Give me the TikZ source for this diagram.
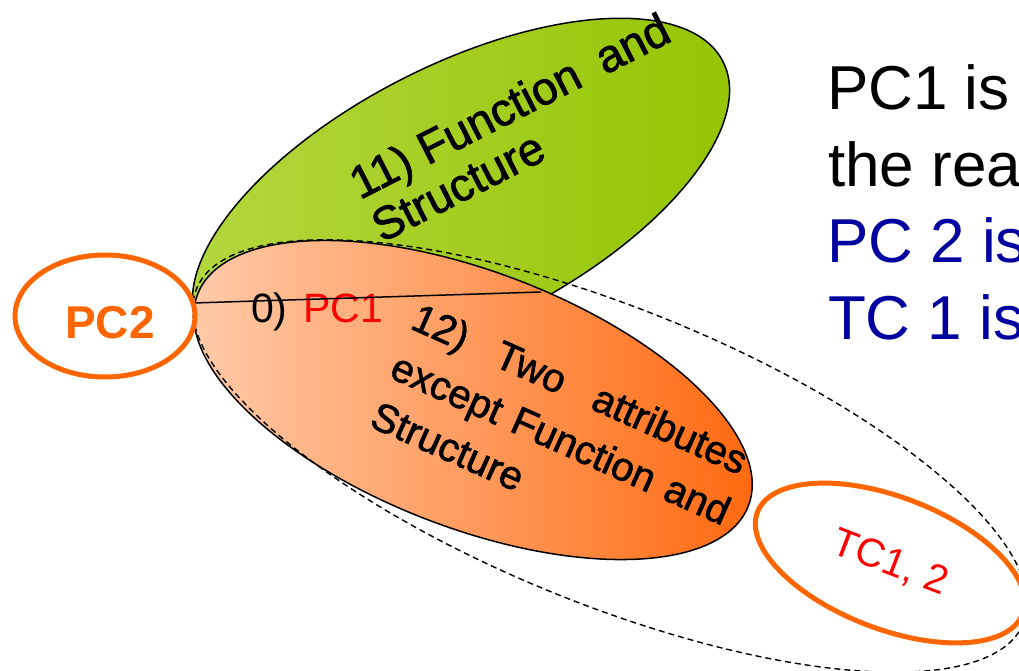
\documentclass[tikz,border=0pt]{standalone}
\usepackage{fontspec}
\setmainfont{Liberation Sans}
\newfontfamily\heavysans[FakeBold=1.6]{Liberation Sans}
\usetikzlibrary{shapes.geometric}

\definecolor{pcorange}{RGB}{255,102,0}
\definecolor{leafl}{RGB}{180,216,66}
\definecolor{leafr}{RGB}{148,196,0}
\definecolor{peachl}{RGB}{255,206,174}
\definecolor{peachr}{RGB}{255,102,10}
\definecolor{navytext}{RGB}{0,0,160}

\tikzset{
  blob/.style={draw=black, line width=1.5pt},
  hull/.style={draw=black, dash pattern=on 6pt off 4pt, line width=1.4pt},
  ring/.style={draw=pcorange, line width=5pt, ellipse, inner sep=0pt},
  lbl/.style={inner sep=0pt, outer sep=0pt, anchor=base west},
  leaftext/.style={lbl, rotate=27, font=\heavysans\fontsize{46}{50}\selectfont},
  peachtext/.style={lbl, rotate=-24, font=\heavysans\fontsize{40}{44}\selectfont},
  sidetext/.style={lbl, font=\fontsize{62}{76}\selectfont},
}

\begin{document}
\begin{tikzpicture}[x=1pt,y=-1pt]
\useasboundingbox (0,0) rectangle (1019,671);
\fill[white] (0,0) rectangle (1019,671);
\clip (0,0) rectangle (1019,671);

% 11) Function and Structure
\path[blob, left color=leafl, right color=leafr]
  (461,195) ellipse [x radius=294pt, y radius=130pt, rotate=27];

% 12) Two attributes except Function and Structure
\path[blob, left color=peachl, right color=peachr]
  (473,400) ellipse [x radius=295pt, y radius=128pt, rotate=-21];

% outer dashed set
\draw[hull] (610,456) ellipse [x radius=446pt, y radius=148pt, rotate=-22];

% labels inside the two sets
\node[leaftext] (fs1) at (360,200) {\makebox[352pt][l]{11) Function\hfill and}};
\node[leaftext] (fs2) at (382,243) {Structure};

\node[peachtext] (ta1) at (409,328) {\makebox[362pt][s]{12) Two attributes}};
\node[peachtext] (ta2) at (388,377) {\makebox[366pt][s]{except Function and}};
\node[peachtext] (ta3) at (368,426) {Structure};

\node[lbl, font=\fontsize{41}{44}\selectfont] (zero) at (251,322)
  {0)\hspace{16pt}\textcolor{red}{PC1}};

% chord through the overlap
\coordinate (tipL) at (193,303);
\coordinate (tipR) at (541,292);
\draw[line width=1.5pt] (tipL) -- (tipR);

% PC2 and TC1, 2
\node[ring, minimum width=180pt, minimum height=122pt] (pc2) at (105,316) {};
\node[inner sep=0pt, anchor=base, text=pcorange, font=\fontsize{46}{50}\selectfont\bfseries]
  (pc2txt) at (110,338) {PC2};
\node[ring, rotate=-21, minimum width=284pt, minimum height=132pt,
      text=red, font=\fontsize{40}{44}\selectfont] (tc) at (890,563) {TC1, 2};

% side notes
\node[sidetext] (n1) at (827,110) {PC1 is};
\node[sidetext] (n2) at (828,186) {the rea};
\node[sidetext, text=navytext] (n3) at (827,262) {PC 2 is};
\node[sidetext, text=navytext] (n4) at (828,339) {TC 1 is};
\end{tikzpicture}
\end{document}
